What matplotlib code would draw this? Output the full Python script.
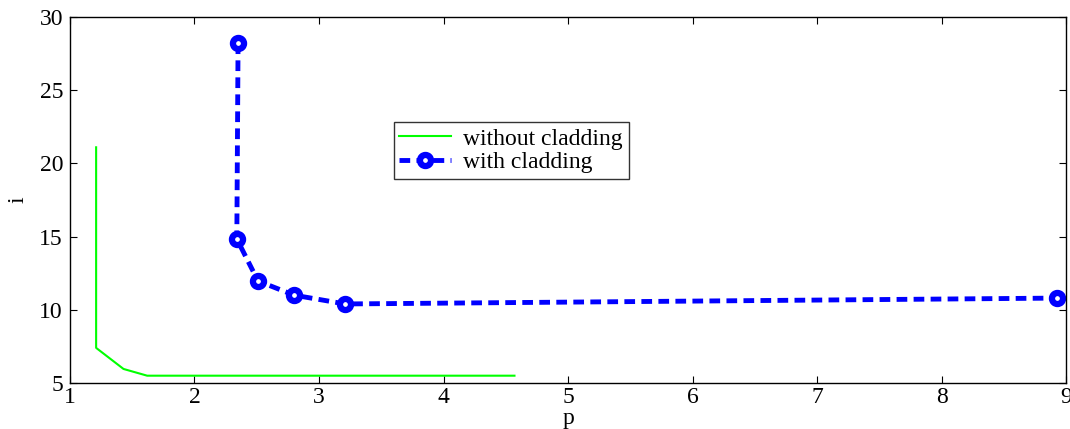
import numpy as np
import matplotlib.pyplot as plt

# data
p_without = [1.21, 1.21, 1.43, 1.62, 4.57]
i_without = [21.1, 7.4, 5.96, 5.5, 5.5]

p_with = [2.35, 2.34, 2.51, 2.80, 3.21, 8.93]
i_with = [28.2, 14.84, 11.97, 11.0, 10.4, 10.8]

plt.rcParams['font.family'] = ['Liberation Serif', 'DejaVu Serif']

fig = plt.figure(figsize=(10.7, 4.29), dpi=100)
ax = fig.add_axes([0.0654, 0.1072, 0.9309, 0.8532])

ax.plot(p_without, i_without, color='#00ff00', lw=1.5, label='without cladding')
ax.plot(p_with, i_with, color='#0000ff', lw=3.5, ls=(0, (2.2, 1.3)),
        marker='o', ms=8, mfc='white', mec='#0000ff', mew=4.5,
        label='with cladding')

ax.set_xlim(1, 9)
ax.set_ylim(5, 30)
ax.set_xticks(range(1, 10))
ax.set_yticks(range(5, 31, 5))
ax.tick_params(direction='in', length=5, top=True, right=True, labelsize=17, pad=5)
ax.tick_params(axis='x', pad=3)
for s in ax.spines.values():
    s.set_linewidth(1.0)

ax.set_xlabel('p', fontsize=17, labelpad=0)
ax.set_ylabel('i', fontsize=17, labelpad=8)

leg = ax.legend(loc='upper left', bbox_to_anchor=(0.313, 0.745), fontsize=17,
                frameon=True, fancybox=False, edgecolor='black',
                handlelength=2.2, borderpad=0.25, labelspacing=0.1,
                handletextpad=0.5)
leg.get_frame().set_linewidth(1.0)

fig.savefig('out.png', dpi=100)
